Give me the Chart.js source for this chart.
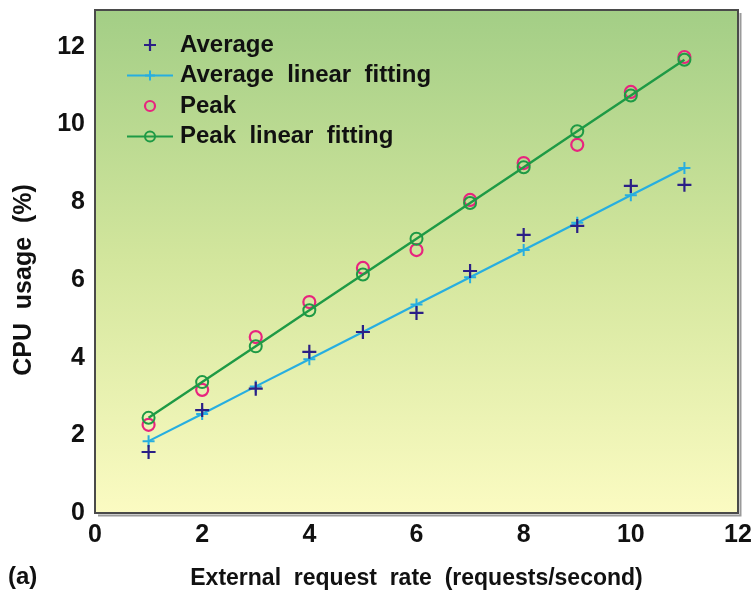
<!DOCTYPE html>
<html>
<head>
<meta charset="utf-8">
<style>
  html, body { margin: 0; padding: 0; background: #fff; }
  #wrap { width: 752px; height: 593px; position: relative; }
</style>
<script src="https://cdn.jsdelivr.net/npm/chart.js@4.4.1/dist/chart.umd.min.js"></script>
</head>
<body>
<div id="wrap"><canvas id="grafico" width="752" height="593"></canvas></div>
<script>
// Datos
const tasas = [1, 2, 3, 4, 5, 6, 7, 8, 9, 10, 11];
const promedio = [1.57, 2.65, 3.2, 4.15, 4.66, 5.15, 6.23, 7.16, 7.39, 8.42, 8.45];
const promedioAjuste = [1.85, 2.55, 3.26, 3.96, 4.66, 5.37, 6.07, 6.77, 7.47, 8.18, 8.88];
const pico = [2.27, 3.17, 4.53, 5.43, 6.31, 6.77, 8.06, 9.01, 9.48, 10.84, 11.74];
const picoAjuste = [2.45, 3.37, 4.29, 5.22, 6.14, 7.06, 7.98, 8.90, 9.83, 10.75, 11.67];
const xTicks = [0, 2, 4, 6, 8, 10, 12];
const yTicks = [0, 2, 4, 6, 8, 10, 12];

const fuente = "'Liberation Sans', Arial, sans-serif";

const puntos = (ys) => tasas.map((x, i) => ({ x: x, y: ys[i] }));

// Fondo degradado y marco del área de trazado
const fondo = {
  id: "fondo",
  beforeDatasetsDraw(chart) {
    const { ctx, chartArea: a } = chart;
    const g = ctx.createLinearGradient(0, a.top, 0, a.bottom);
    g.addColorStop(0, "#a3ce86");
    g.addColorStop(0.5, "#d3e69d");
    g.addColorStop(1, "#fbfbc2");
    ctx.save();
    ctx.fillStyle = g;
    ctx.fillRect(a.left, a.top, a.right - a.left, a.bottom - a.top);
    ctx.restore();
  },
  afterDraw(chart) {
    const { ctx, chartArea: a } = chart;
    ctx.save();
    // sombra
    ctx.strokeStyle = "#9a9a9a";
    ctx.lineWidth = 2;
    ctx.beginPath();
    ctx.moveTo(a.right + 2.5, a.top + 3);
    ctx.lineTo(a.right + 2.5, a.bottom + 2.5);
    ctx.lineTo(a.left + 3, a.bottom + 2.5);
    ctx.stroke();
    ctx.strokeStyle = "#4a4a4a";
    ctx.lineWidth = 2;
    ctx.strokeRect(a.left, a.top, a.right - a.left, a.bottom - a.top);
    ctx.fillStyle = "#111";
    ctx.textBaseline = "middle";
    // etiqueta (a)
    ctx.font = "bold 24px " + fuente;
    ctx.textAlign = "left";
    ctx.fillText("(a)", 8, 577);
    // título del eje Y
    ctx.translate(24, 280);
    ctx.rotate(-Math.PI / 2);
    ctx.textAlign = "center";
    ctx.font = "bold 25px " + fuente;
    ctx.fillText("CPU  usage  (%)", 0, 0);
    ctx.restore();
  }
};

// Leyenda dentro del área de trazado
const leyenda = {
  id: "leyenda",
  afterDatasetsDraw(chart) {
    const { ctx, chartArea: a } = chart;
    ctx.save();
    chart.data.datasets.forEach((ds, i) => {
      const y = a.top + 35 + i * 30.5;
      const cx = a.left + 55;
      if (ds.showLine) {
        ctx.strokeStyle = ds.borderColor;
        ctx.lineWidth = 2;
        ctx.beginPath();
        ctx.moveTo(a.left + 32, y);
        ctx.lineTo(a.left + 78, y);
        ctx.stroke();
      }
      ctx.strokeStyle = ds.pointBorderColor;
      ctx.lineWidth = ds.pointBorderWidth;
      ctx.beginPath();
      if (ds.pointStyle === "circle") {
        ctx.arc(cx, y, ds.pointRadius - 1, 0, Math.PI * 2);
      } else {
        const r = ds.pointRadius - 1;
        ctx.moveTo(cx - r, y); ctx.lineTo(cx + r, y);
        ctx.moveTo(cx, y - r); ctx.lineTo(cx, y + r);
      }
      ctx.stroke();
      ctx.fillStyle = "#111";
      ctx.font = "bold 24px " + fuente;
      ctx.textAlign = "left";
      ctx.textBaseline = "middle";
      ctx.fillText(ds.label.split(" ").join("  "), a.left + 85, y);
    });
    ctx.restore();
  }
};

new Chart(document.getElementById("grafico"), {
  type: "scatter",
  data: {
    datasets: [
      {
        label: "Average",
        data: puntos(promedio),
        pointStyle: "cross",
        pointRadius: 7,
        pointBorderWidth: 2.2,
        pointBorderColor: "#2b1f86",
        borderColor: "#2b1f86",
        backgroundColor: "#2b1f86",
        showLine: false,
        order: 1
      },
      {
        label: "Average linear fitting",
        data: puntos(promedioAjuste),
        pointStyle: "cross",
        pointRadius: 6,
        pointBorderWidth: 2,
        pointBorderColor: "#27aee0",
        borderColor: "#27aee0",
        borderWidth: 2.2,
        backgroundColor: "#27aee0",
        showLine: true,
        order: 2
      },
      {
        label: "Peak",
        data: puntos(pico),
        pointStyle: "circle",
        pointRadius: 6,
        pointBorderWidth: 2.2,
        pointBorderColor: "#e8247e",
        pointBackgroundColor: "rgba(0,0,0,0)",
        borderColor: "#e8247e",
        backgroundColor: "rgba(0,0,0,0)",
        showLine: false,
        order: 3
      },
      {
        label: "Peak linear fitting",
        data: puntos(picoAjuste),
        pointStyle: "circle",
        pointRadius: 6,
        pointBorderWidth: 2,
        pointBorderColor: "#1e9a45",
        pointBackgroundColor: "rgba(0,0,0,0)",
        borderColor: "#1e9a45",
        borderWidth: 2.4,
        backgroundColor: "rgba(0,0,0,0)",
        showLine: true,
        order: 0
      }
    ]
  },
  options: {
    responsive: false,
    animation: false,
    layout: { padding: { left: 0, right: 14, top: 10, bottom: 0 } },
    plugins: { legend: { display: false }, tooltip: { enabled: false } },
    scales: {
      x: {
        type: "linear",
        min: 0,
        max: 12,
        afterFit: (s) => { s.height = 80; s.paddingLeft = 0; s.paddingRight = 0; },
        afterBuildTicks: (s) => { s.ticks = xTicks.map(v => ({ value: v })); },
        grid: { display: false, drawTicks: false },
        border: { display: false },
        ticks: { padding: 7, color: "#111", font: { family: fuente, size: 25, weight: "bold" } },
        title: {
          display: true,
          text: "External  request  rate  (requests/second)",
          color: "#111",
          padding: { top: 0, bottom: 1 },
          font: { family: fuente, size: 23, weight: "bold" }
        }
      },
      y: {
        min: 0,
        max: 12.95,
        afterFit: (s) => { s.width = 95; s.paddingTop = 0; s.paddingBottom = 0; },
        afterBuildTicks: (s) => { s.ticks = yTicks.map(v => ({ value: v })); },
        grid: { display: false, drawTicks: false },
        border: { display: false },
        ticks: { padding: 10, color: "#111", font: { family: fuente, size: 25, weight: "bold" } },
        title: { display: false }
      }
    }
  },
  plugins: [fondo, leyenda]
});
</script>
</body>
</html>
